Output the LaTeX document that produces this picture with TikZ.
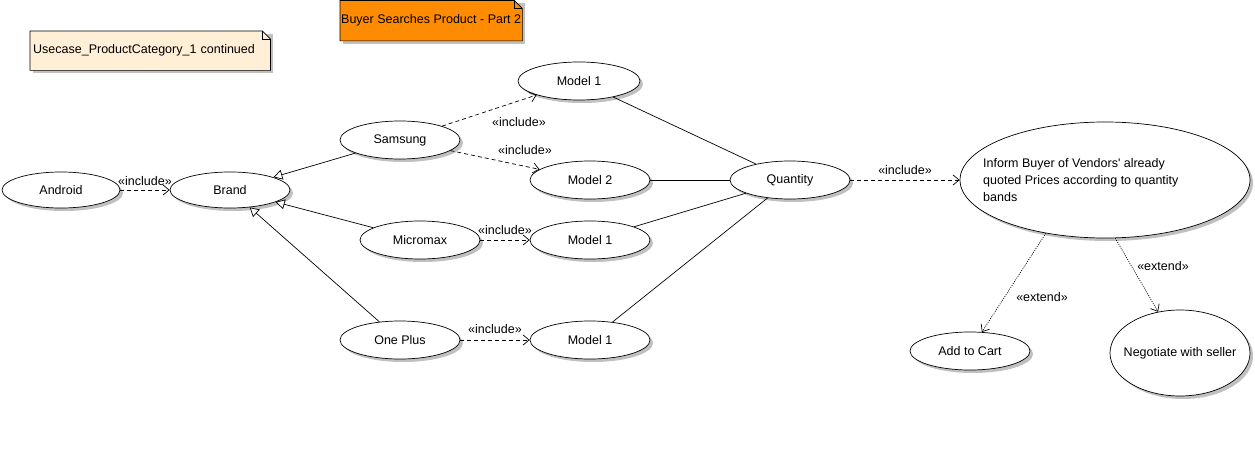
\documentclass[tikz,border=0pt]{standalone}
\usepackage{fontspec}
\setmainfont{Liberation Sans}
\usetikzlibrary{shadows,arrows.meta,shapes.geometric,backgrounds}
\definecolor{shadowgray}{HTML}{C0C0C0}
\definecolor{notecream}{HTML}{FFEFD6}
\definecolor{noteorange}{HTML}{FF8C00}
\begin{document}
\begin{tikzpicture}[x=1pt,y=-1pt,
  font=\fontsize{12.5}{15}\selectfont,
  uc/.style={ellipse, draw, line width=0.7pt, fill=white, minimum width=120pt, minimum height=38pt, inner sep=0pt,
    drop shadow={shadow xshift=3pt, shadow yshift=-3pt, fill=shadowgray, opacity=1}},
  notebox/.style={rectangle, draw=none, inner sep=3pt, align=left, anchor=north west},
  lbl/.style={inner sep=0pt},
  incl/.style={draw, line width=0.7pt, dash pattern=on 4pt off 3pt, -{Straight Barb[length=6pt,width=10pt]}},
  ext/.style={draw, line width=0.7pt, dash pattern=on 1pt off 1.2pt, -{Straight Barb[length=6pt,width=10pt]}},
  gen/.style={draw, line width=0.7pt, -{Triangle[open, fill=white, length=9pt, width=10pt]}},
  assoc/.style={draw, line width=0.7pt}]
\useasboundingbox (0,0) rectangle (1255,460);

% notes
\node[notebox, text width=234pt, minimum height=39pt] (n1) at (30,31) {Usecase\_ProductCategory\_1 continued};
\node[notebox, inner xsep=1pt, minimum width=180pt, minimum height=40pt] (n2) at (340,0.5) {Buyer Searches Product - Part 2};
\begin{scope}[on background layer]
  \foreach \n/\c in {n1/notecream, n2/noteorange}{
    \fill[shadowgray] ([shift={(3pt,-3pt)}]\n.north west) rectangle ([shift={(3pt,-3pt)}]\n.south east);
    \filldraw[fill=\c, line width=0.7pt] (\n.north west) -- ([xshift=-8pt]\n.north east) -- ([yshift=-8pt]\n.north east) -- (\n.south east) -- (\n.south west) -- cycle;
    \draw[line width=0.6pt] ([xshift=-8pt]\n.north east) -- ([xshift=-8pt,yshift=-8pt]\n.north east) -- ([yshift=-8pt]\n.north east);
  }
\end{scope}

% use cases
\node[uc, minimum width=118pt, minimum height=36pt] (android) at (61,190) {Android};
\node[uc, minimum height=36pt] (brand) at (230,190) {Brand};
\node[uc] (samsung) at (400,140) {Samsung};
\node[uc] (micromax) at (420,240) {Micromax};
\node[uc] (oneplus) at (400,340) {One Plus};
\node[uc, minimum width=122pt] (m1a) at (579,81) {Model 1};
\node[uc] (m2) at (590,180) {Model 2};
\node[uc] (m1b) at (590,240) {Model 1};
\node[uc] (m1c) at (590,340) {Model 1};
\node[uc] (quantity) at (790,180) {Quantity};
\node[uc, minimum width=290pt, minimum height=116pt] (inform) at (1105,180) {};
\node[anchor=west, align=left, inner sep=0pt, font=\fontsize{12.5}{17}\selectfont] (informtext) at (983,180)
  {Inform Buyer of Vendors\textquotesingle{} already\\quoted Prices according to quantity\\bands};
\node[uc] (cart) at (970,351) {Add to Cart};
\node[uc, inner xsep=-13pt, minimum width=140pt, minimum height=86pt] (neg) at (1180,353) {Negotiate with seller};

% connectors
\draw[incl] (android) -- (brand);
\draw[gen] (samsung) -- (brand);
\draw[gen] (micromax) -- (brand);
\draw[gen] (oneplus) -- (brand);
\draw[incl] (samsung) -- (m1a);
\draw[incl] (samsung) -- (m2);
\draw[incl] (micromax) -- (m1b);
\draw[incl] (oneplus) -- (m1c);
\draw[assoc] (m1a) -- (quantity);
\draw[assoc] (m2) -- (quantity);
\draw[assoc] (m1b) -- (quantity);
\draw[assoc] (m1c) -- (quantity);
\draw[incl] (quantity) -- (inform);
\draw[ext] (inform.222) -- (cart.58);
\draw[ext] (inform.280) -- (neg.118);

% labels
\node[lbl] (l1) at (145,181) {«include»};
\node[lbl] (l2) at (519,122) {«include»};
\node[lbl] (l3) at (525,150) {«include»};
\node[lbl] (l4) at (505,230) {«include»};
\node[lbl] (l5) at (495,329) {«include»};
\node[lbl] (l6) at (905,170) {«include»};
\node[lbl] (l7) at (1042,297) {«extend»};
\node[lbl] (l8) at (1163,266) {«extend»};
\end{tikzpicture}
\end{document}
